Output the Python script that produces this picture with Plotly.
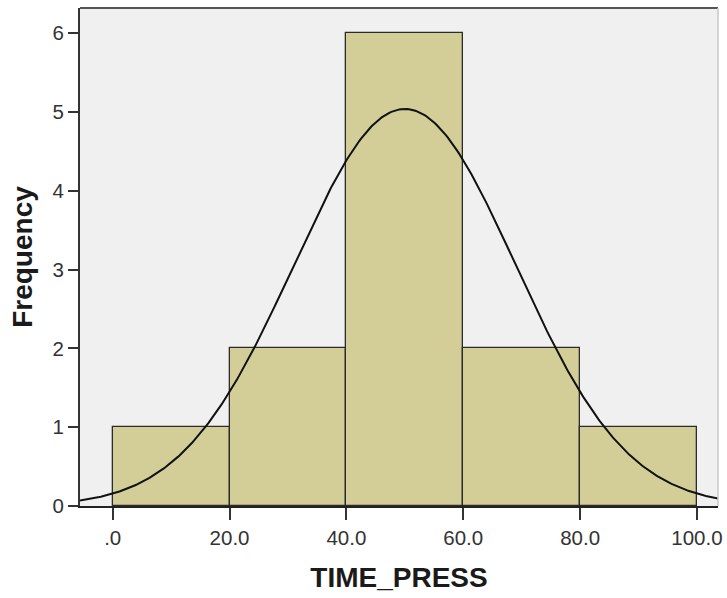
import numpy as np
import plotly.graph_objects as go

bin_centers = [10, 30, 50, 70, 90]
frequencies = [1, 2, 6, 2, 1]
bin_width = 20
x_tick_vals = [0, 20, 40, 60, 80, 100]
x_tick_text = [".0", "20.0", "40.0", "60.0", "80.0", "100.0"]
y_tick_vals = [0, 1, 2, 3, 4, 5, 6]
fit_mean = 50.0
fit_sd = 19.0
n_total = sum(frequencies)

xc = np.linspace(-5.6, 104, 400)
yc = n_total * bin_width / (fit_sd * np.sqrt(2 * np.pi)) * np.exp(-(xc - fit_mean) ** 2 / (2 * fit_sd ** 2))

fig = go.Figure()
fig.add_trace(go.Bar(
    x=bin_centers, y=frequencies, width=[bin_width] * len(bin_centers),
    marker=dict(color="#d3cd97", line=dict(color="#2b2b2b", width=1.3)),
    showlegend=False, hoverinfo="skip",
))
fig.add_trace(go.Scatter(
    x=xc, y=yc, mode="lines", line=dict(color="#111111", width=2),
    showlegend=False, hoverinfo="skip",
))

font = "Liberation Sans, Arial, sans-serif"
fig.update_layout(
    width=727, height=598,
    margin=dict(l=80, r=5, t=8, b=92),
    paper_bgcolor="white", plot_bgcolor="#f0f0f0",
    font=dict(family=font, size=18, color="#222"),
    bargap=0,
    xaxis=dict(
        range=[-5.6, 103.6], tickvals=x_tick_vals, ticktext=x_tick_text,
        ticks="outside", ticklen=12, tickwidth=2, tickcolor="#333",
        showline=True, linecolor="#222", linewidth=2, mirror=False,
        showgrid=False, zeroline=False,
        tickfont=dict(size=20.5, color="#333"),
        title=dict(text="<b>TIME_PRESS</b>", font=dict(size=28, color="#1a1a1a"), standoff=20),
    ),
    yaxis=dict(
        range=[0, 6.32], tickvals=y_tick_vals,
        ticks="outside", ticklen=10, tickwidth=2, tickcolor="#333",
        showline=True, linecolor="#333", linewidth=2, mirror=False,
        showgrid=False, zeroline=False,
        tickfont=dict(size=20.5, color="#333"),
        title=dict(text="<b>Frequency</b>", font=dict(size=28, color="#1a1a1a"), standoff=12),
    ),
    shapes=[
        dict(type="line", xref="paper", yref="paper", x0=0, x1=1, y0=1, y1=1,
             line=dict(color="#555", width=2)),
        dict(type="line", xref="paper", yref="paper", x0=1, x1=1, y0=0, y1=1,
             line=dict(color="#c8c8c8", width=1.5)),
    ],
)
fig.write_html("out.html")
